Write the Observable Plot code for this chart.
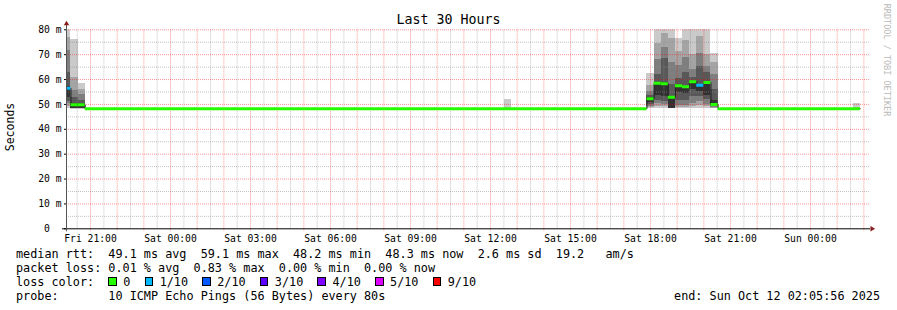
<!DOCTYPE html>
<html><head><meta charset="utf-8">
<script src="https://cdn.jsdelivr.net/npm/d3@7"></script>
<script src="https://cdn.jsdelivr.net/npm/@observablehq/plot@0.6"></script>
<style>
html,body{margin:0;padding:0;background:#fff;}
#wrap{position:relative;width:897px;height:310px;overflow:hidden;font-family:"DejaVu Sans Mono",monospace;color:#000;background:#fff;}
#chart{position:absolute;left:0;top:0;}
.t{position:absolute;white-space:pre;line-height:1;}
#title{left:0;width:897px;text-align:center;top:13.25px;font-size:13.3px;}
#ylab{left:11px;top:127px;font-size:11.5px;transform:translate(-50%,-50%) rotate(-90deg);}
#wm{left:887.2px;top:60px;font-size:8.5px;color:#bbb;transform:translate(-50%,-50%) rotate(90deg);}
#legend{position:absolute;left:16px;top:246.7px;font-size:11.8px;line-height:14.1px;white-space:pre;}
#end{position:absolute;right:17px;top:289px;font-size:11.8px;line-height:14.1px;white-space:pre;}
.box{display:inline-block;width:8.6px;height:8.6px;box-sizing:border-box;border:1px solid #000;margin-right:6.4px;vertical-align:0px;}
</style></head>
<body><div id="wrap"><div id="chart"></div></div>
<script>
// ---- data ----
const startTime = "Fri 20:05:56";
const endTime = "Sun 02:05:56";
const binMinutes = 16;
const xTickLabels = ["Fri 21:00","Sat 00:00","Sat 03:00","Sat 06:00","Sat 09:00","Sat 12:00","Sat 15:00","Sat 18:00","Sat 21:00","Sun 00:00"];
const yTicks = [0,10,20,30,40,50,60,70,80];
const yTickLabels = ["0\u00a0\u00a0","10 m","20 m","30 m","40 m","50 m","60 m","70 m","80 m"];

// smoke bins (start of each 16-minute bin) and the 10 sorted ping values (ms)
const smokeBins = ["Fri 20:00","Fri 20:16","Fri 20:32","Sat 12:32","Sat 17:52","Sat 18:08","Sat 18:24","Sat 18:40","Sat 18:56","Sat 19:12","Sat 19:28","Sat 19:44","Sat 20:00","Sat 20:16","Sun 01:36"];
const ping1  = [48.2,48.1,48.1,48.2,48.3,48.3,48.3,48.2,48.3,48.3,48.3,48.5,48.5,48.3,48.2];
const ping2  = [49.0,48.2,48.2,48.2,48.7,49.0,49.0,48.3,48.8,48.8,49.0,49.5,49.0,48.5,48.2];
const ping3  = [50.2,48.2,48.2,48.2,49.3,50.2,50.0,48.3,49.6,49.5,50.5,51.0,50.0,48.7,48.2];
const ping4  = [51.0,48.3,48.3,48.3,50.0,51.5,51.0,48.4,51.5,51.5,53.0,53.0,52.0,49.0,48.3];
const ping5  = [52.9,48.4,48.4,48.3,50.6,53.6,53.0,48.5,54.6,54.5,55.8,55.0,53.6,49.4,48.3];
const ping6  = [57.2,50.3,50.3,48.3,52.6,58.6,58.8,53.2,57.8,57.4,59.4,58.0,59.2,51.5,48.3];
const ping7  = [62.9,52.6,51.6,48.3,53.6,62.0,68.3,58.0,60.5,63.0,61.0,65.3,63.0,56.0,48.3];
const ping8  = [71.7,55.6,54.0,48.4,55.0,67.9,73.0,67.0,65.5,68.7,64.0,70.6,65.3,62.0,48.4];
const ping9  = [77.0,60.9,55.9,48.5,57.5,74.6,78.5,76.4,71.3,75.8,69.9,77.3,69.9,67.0,48.5];
const ping10 = [80.4,76.1,58.5,52.0,62.6,80.4,80.4,80.4,76.4,80.4,80.4,80.4,80.4,70.3,50.4];
const smokeGreys = ["#cacaca","#a4a4a4","#7e7e7e","#585858","#323232"];

// median rtt steps
const medianStarts = ["Fri 20:00","Fri 20:16","Fri 20:32","Fri 20:48","Sat 17:52","Sat 18:08","Sat 18:24","Sat 18:40","Sat 18:56","Sat 19:12","Sat 19:28","Sat 19:44","Sat 20:00","Sat 20:16","Sat 20:32"];
const medianEnd = "Sun 01:52";
const medianValues = [56.5,49.9,49.9,48.3,52.3,58.5,58.3,52.9,57.5,57.1,59.1,57.7,58.8,50.0,48.3];
const medianLoss   = [1,0,0,0,0,0,0,0,0,0,0,1,0,0,0];

// legend
const lossLabels = ["0","1/10","2/10","3/10","4/10","5/10","9/10"];
const lossCounts = [0,1,2,3,4,5,9];
const lossColors = ["#26ff00","#00b8ff","#0059ff","#5e00ff","#7e00ff","#dd00ff","#ff0000"];
const rttLine = "median rtt:  49.1 ms avg  59.1 ms max  48.2 ms min  48.3 ms now  2.6 ms sd  19.2   am/s";
const lossLine = "packet loss: 0.01 % avg  0.83 % max  0.00 % min  0.00 % now";
const probeLine = "probe:       10 ICMP Echo Pings (56 Bytes) every 80s";
const endLine = "end: Sun Oct 12 02:05:56 2025";
const titleText = "Last 30 Hours";
const yLabel = "Seconds";
const watermark = "RRDTOOL / TOBI OETIKER";

// ---- build ----
const dayIndex = {Fri:0, Sat:1, Sun:2};
const toMin = s => { const [d, hms] = s.split(" "); const [h, m, sec = 0] = hms.split(":").map(Number); return dayIndex[d]*1440 + h*60 + m + sec/60; };
const xStart = toMin(startTime), xEnd = toMin(endTime);
const xTickVals = xTickLabels.map(toMin);
const xLab = new Map(xTickVals.map((v, i) => [v, xTickLabels[i]]));
const yLab = new Map(yTicks.map((v, i) => [v, yTickLabels[i]]));

const pings = [ping1,ping2,ping3,ping4,ping5,ping6,ping7,ping8,ping9,ping10];
const smoke = [];
smokeBins.forEach((s, i) => {
  const p = pings.map(a => a[i]);
  const t0 = toMin(s);
  for (let k = 0; k < 5; k++) smoke.push({t0, t1: t0 + binMinutes, lo: p[k], hi: p[9 - k], fill: smokeGreys[k]});
});
const lossColor = n => { let c = lossColors[0]; lossCounts.forEach((v, i) => { if (n >= v) c = lossColors[i]; }); return c; };
const medSegs = medianStarts.map((s, i) => ({
  t0: toMin(s),
  t1: i + 1 < medianStarts.length ? toMin(medianStarts[i + 1]) : toMin(medianEnd),
  v: medianValues[i], color: lossColor(medianLoss[i])
}));
const stepPts = medSegs.map(d => ({t: d.t0, v: d.v}));
stepPts.push({t: medSegs[medSegs.length - 1].t1, v: medSegs[medSegs.length - 1].v});

const hours = d3.range(Math.ceil(xStart / 60) * 60, xEnd, 60);
const halfHours = d3.range(Math.ceil(xStart / 30) * 30, xEnd, 30).filter(m => m % 60 !== 0);
const yMajor = yTicks.filter(v => v > 0);
const yMinor = yTicks.slice(0, -1).map(v => v + 5);
const yMax = yTicks[yTicks.length - 1];

const H = 245;
const chart = Plot.plot({
  width: 897, height: H,
  marginLeft: 66, marginRight: 31, marginTop: 29.3, marginBottom: H - 228.3,
  style: {fontFamily: "'DejaVu Sans Mono', monospace", fontSize: "9.7px", background: "#fff", color: "#000", overflow: "visible"},
  x: {domain: [xStart, xEnd], ticks: xTickVals, tickFormat: d => xLab.get(d), tickSize: 0, tickPadding: 6, label: null},
  y: {domain: [0, yMax], ticks: yTicks, tickFormat: d => yLab.get(d), tickSize: 2, tickPadding: 3, label: null},
  color: {type: "identity"},
  marks: [
    Plot.rect(smoke, {x1: "t0", x2: "t1", y1: "lo", y2: "hi", fill: d => d.fill, clip: true, shapeRendering: "crispEdges"}),
    Plot.ruleX(halfHours, {stroke: "#909090", strokeOpacity: 0.55, strokeDasharray: "1,1"}),
    Plot.ruleX(hours, {stroke: "#ff0000", strokeOpacity: 0.42, strokeDasharray: "1,1", insetBottom: -3}),
    Plot.ruleY(yMinor, {stroke: "#909090", strokeOpacity: 0.55, strokeDasharray: "1,1", insetRight: -3}),
    Plot.ruleY(yMajor, {stroke: "#ff0000", strokeOpacity: 0.42, strokeDasharray: "1,1", insetRight: -3}),
    Plot.line(stepPts, {x: "t", y: "v", curve: "step-after", stroke: "#202020", strokeWidth: 1, clip: true}),
    Plot.ruleY(medSegs, {y: "v", x1: "t0", x2: "t1", stroke: d => d.color, strokeWidth: 3, clip: true}),
    Plot.ruleY([0], {stroke: "#000", insetLeft: -4, insetRight: -4}),
    Plot.ruleX([xStart], {stroke: "#555", insetTop: -7, insetBottom: -3}),
    Plot.dot([{x: xStart, y: yMax}], {x: "x", y: "y", symbol: "triangle", r: 2, fill: "#8b1a1a", stroke: null, dy: -6}),
    Plot.dot([{x: xEnd, y: 0}], {x: "x", y: "y", symbol: "triangle", r: 2, fill: "#8b1a1a", stroke: null, rotate: 90, dx: 5.5})
  ]
});
document.getElementById("chart").appendChild(chart);

const wrap = document.getElementById("wrap");
const mk = (id, cls, txt) => { const e = document.createElement("div"); e.id = id; if (cls) e.className = cls; e.textContent = txt; wrap.appendChild(e); return e; };
mk("title", "t", titleText);
mk("ylab", "t", yLabel);
mk("wm", "t", watermark);
const leg = document.createElement("div"); leg.id = "legend";
const addLine = txt => { const d = document.createElement("div"); d.textContent = txt; leg.appendChild(d); return d; };
addLine(rttLine);
addLine(lossLine);
const lc = document.createElement("div");
lc.appendChild(document.createTextNode("loss color:  "));
lossLabels.forEach((l, i) => {
  const b = document.createElement("span"); b.className = "box"; b.style.background = lossColors[i];
  lc.appendChild(b);
  lc.appendChild(document.createTextNode(l + (i < lossLabels.length - 1 ? "  " : "")));
});
leg.appendChild(lc);
addLine(probeLine);
wrap.appendChild(leg);
const en = document.createElement("div"); en.id = "end"; en.textContent = endLine; wrap.appendChild(en);
</script>
</body></html>
